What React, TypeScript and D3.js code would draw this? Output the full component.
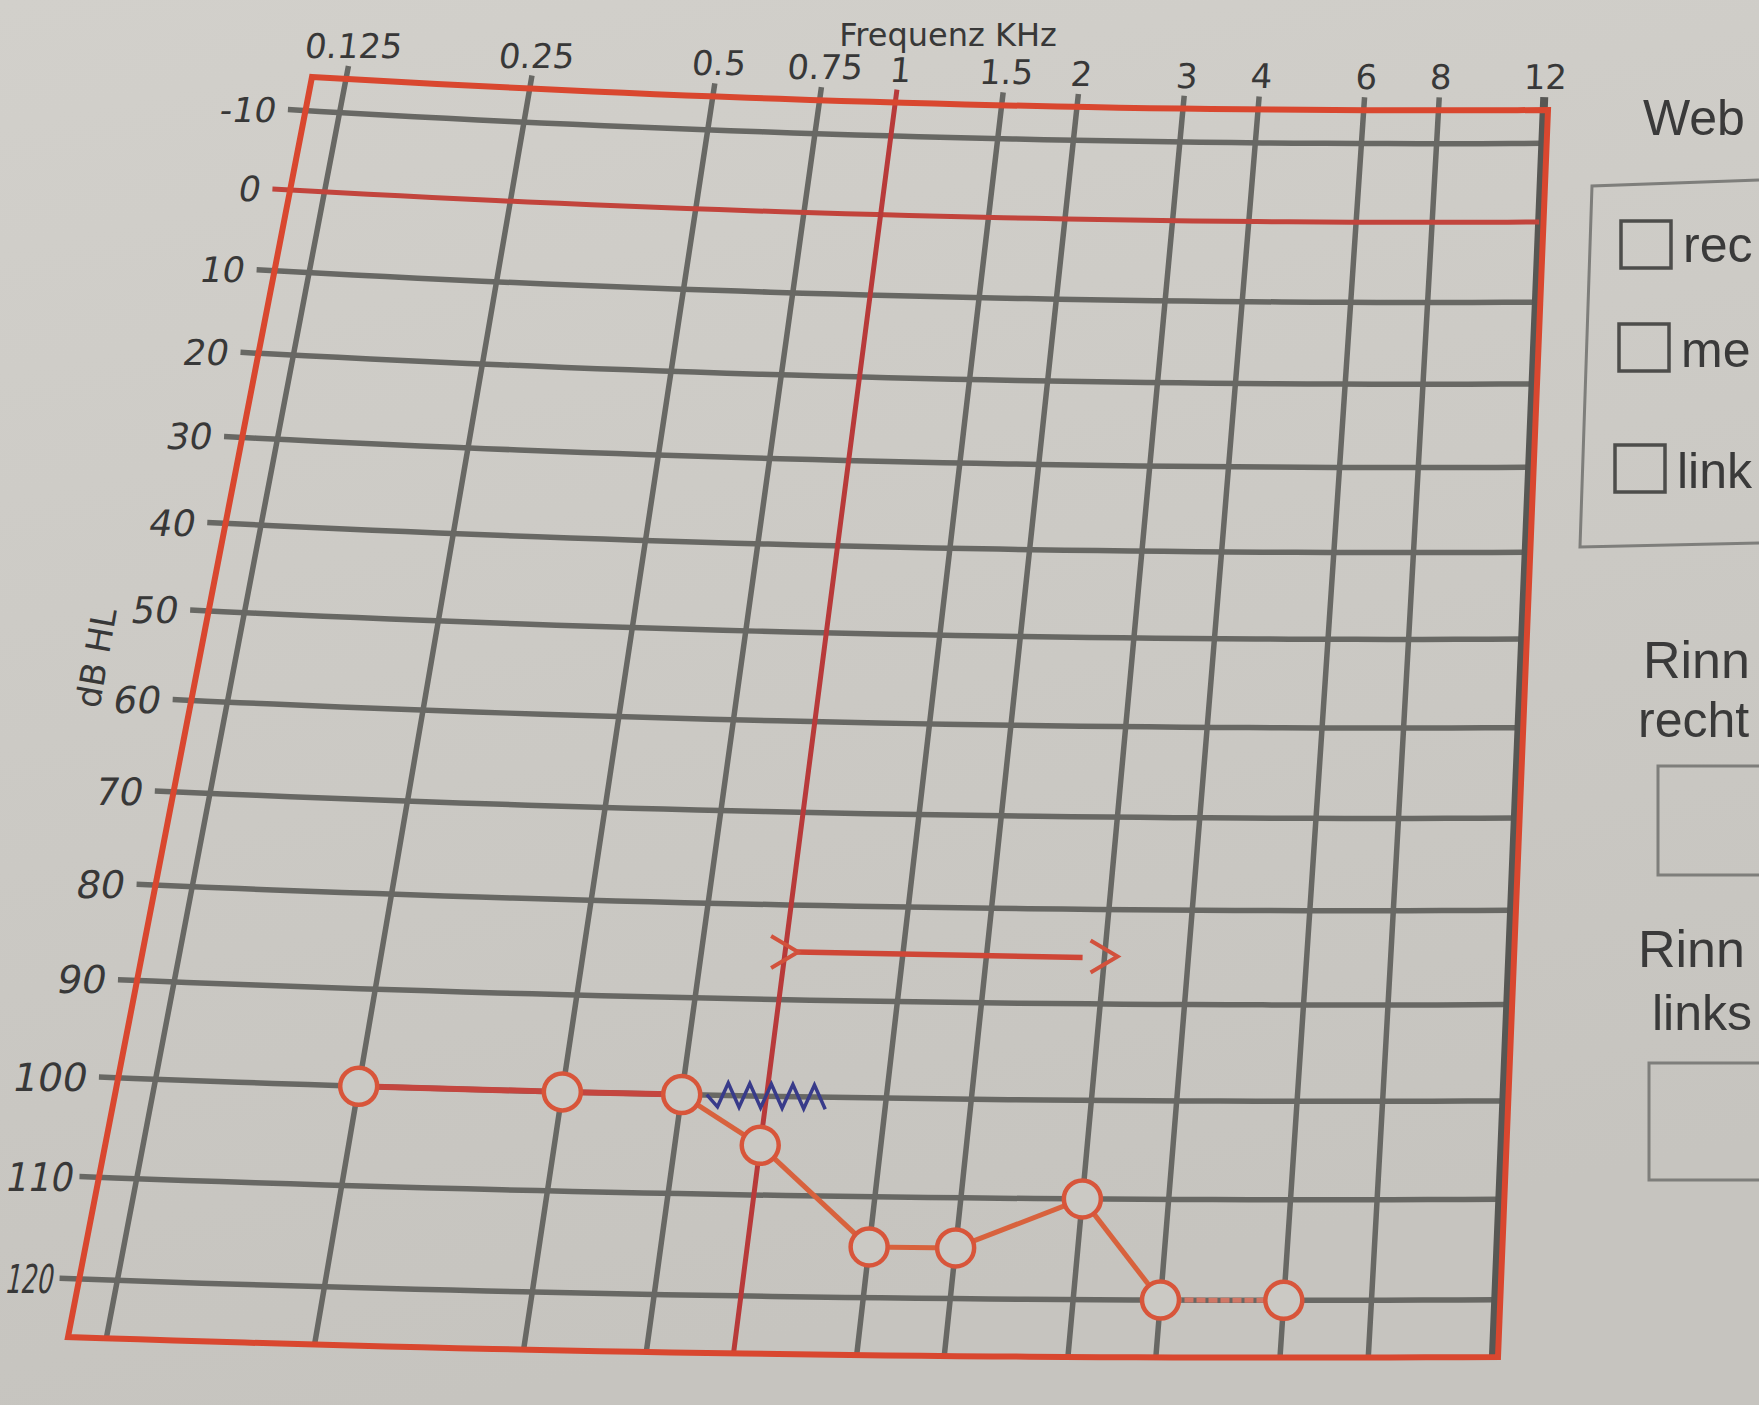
import React, { useEffect, useRef } from 'react';
import * as d3 from 'd3';

// audiogram values
const freqTicks = [0.125, 0.25, 0.5, 0.75, 1, 1.5, 2, 3, 4, 6, 8, 12];
const freqLabels = ['0.125', '0.25', '0.5', '0.75', '1', '1.5', '2', '3', '4', '6', '8', '12'];
const dbTicks = [-10, 0, 10, 20, 30, 40, 50, 60, 70, 80, 90, 100, 110, 120];
const dbLabels = ['-10', '0', '10', '20', '30', '40', '50', '60', '70', '80', '90', '100', '110', '120'];

const airFreq = [0.25, 0.5, 0.75, 1, 1.5, 2, 3, 4, 6];
const airDb = [100, 100, 100, 105, 115, 115, 110, 120, 120];
// 0 = dark red, 1 = orange, 2 = faint dashed
const segmentKind = [0, 0, 1, 1, 1, 1, 1, 2];

const noiseFreq = [0.75, 1.22];
const noiseDb = 100;

const rangeFreq = [1, 3];
const rangeDb = 85;

const weberOptions = ['rec', 'me', 'link'];

const W = 1759;
const H = 1405;

type Pt = [number, number];

// unit square -> photographed quad (tl, tr, br, bl)
function homography(p0: Pt, p1: Pt, p2: Pt, p3: Pt) {
  const [x0, y0] = p0, [x1, y1] = p1, [x2, y2] = p2, [x3, y3] = p3;
  const dx1 = x1 - x2, dx2 = x3 - x2, dx3 = x0 - x1 + x2 - x3;
  const dy1 = y1 - y2, dy2 = y3 - y2, dy3 = y0 - y1 + y2 - y3;
  const den = dx1 * dy2 - dy1 * dx2;
  const g = (dx3 * dy2 - dy3 * dx2) / den;
  const h = (dx1 * dy3 - dy1 * dx3) / den;
  const a = x1 - x0 + g * x1, b = x3 - x0 + h * x3, c = x0;
  const d = y1 - y0 + g * y1, e = y3 - y0 + h * y3, f = y0;
  return (u: number, v: number): Pt => {
    const w = g * u + h * v + 1;
    return [(a * u + b * v + c) / w, (d * u + e * v + f) / w];
  };
}

const App: React.FC = () => {
  const svgRef = useRef<SVGSVGElement>(null);

  useEffect(() => {
    if (!svgRef.current) return;
    const svg = d3.select(svgRef.current);
    svg.selectAll('*').remove();

    const x = d3.scaleLog().domain([0.11, 12.2]).range([0, 1]);
    const y = d3.scaleLinear().domain([-14.3, 125.6]).range([0, 1]);

    const quad = homography([312, 77], [1548, 110], [1498, 1357], [68, 1337]);
    // paper is bent a little in the photo
    const P = (u: number, v: number): Pt => {
      const [px, py] = quad(u, v);
      const bow = 4 * u * (1 - u);
      return [px - 10 * bow * v, py + bow * (10 - 3 * v)];
    };
    const line = d3.line();
    const seg = (u0: number, v0: number, u1: number, v1: number, n = 40) =>
      line(d3.range(n + 1).map(i => P(u0 + (u1 - u0) * i / n, v0 + (v1 - v0) * i / n)));
    const slant = (u: number) => {
      const a = P(u, 0), b = P(u, 1);
      return Math.atan2(b[0] - a[0], b[1] - a[1]) * 180 / Math.PI;
    };

    const defs = svg.append('defs');
    const grad = defs.append('linearGradient').attr('id', 'paper')
      .attr('x1', 0).attr('y1', 0).attr('x2', 0.25).attr('y2', 1);
    grad.append('stop').attr('offset', 0).attr('stop-color', '#d2d0cb');
    grad.append('stop').attr('offset', 1).attr('stop-color', '#c6c4bf');
    svg.append('rect').attr('width', W).attr('height', H).attr('fill', 'url(#paper)');

    const g = svg.append('g').attr('fill', 'none').attr('stroke-linecap', 'butt');
    const gray = '#686864';

    // horizontal grid (with tick stubs on the left)
    dbTicks.filter(d => d !== 0).forEach(d => {
      g.append('path').attr('d', seg(-0.014, y(d), x(12), y(d)))
        .attr('stroke', gray).attr('stroke-width', 5.5);
    });
    // vertical grid
    freqTicks.filter(f => f !== 1).forEach(f => {
      g.append('path').attr('d', seg(x(f), -0.012, x(f), 1))
        .attr('stroke', f === 12 ? '#575754' : gray).attr('stroke-width', f === 12 ? 8 : 5.5);
    });
    // 0 dB and 1 kHz reference lines
    g.append('path').attr('d', seg(-0.014, y(0), x(12), y(0)))
      .attr('stroke', '#c2443c').attr('stroke-width', 5);
    g.append('path').attr('d', seg(x(1), -0.012, x(1), 1))
      .attr('stroke', '#b83a3a').attr('stroke-width', 5);

    // frame
    const n = 40;
    const frame: Pt[] = [
      ...d3.range(n + 1).map(i => P(i / n, 0)),
      ...d3.range(n + 1).map(i => P(1, i / n)),
      ...d3.range(n + 1).map(i => P(1 - i / n, 1)),
      ...d3.range(n + 1).map(i => P(0, 1 - i / n)),
    ];
    g.append('path').attr('d', line(frame) + 'Z')
      .attr('stroke', '#d9472f').attr('stroke-width', 6).attr('stroke-linejoin', 'miter');

    // x tick labels
    const txt = svg.append('g').attr('font-family', 'DejaVu Sans, Verdana, sans-serif').attr('fill', '#383838');
    freqTicks.forEach((f, i) => {
      const u = x(f);
      const top = P(u, 0);
      const ext = P(u, -0.03);
      txt.append('text')
        .attr('transform', `translate(${ext[0]},${top[1] - 21}) skewX(${slant(u) * 0.7})`)
        .attr('text-anchor', 'middle').attr('font-size', 34)
        .text(freqLabels[i]);
    });
    txt.append('text').attr('x', 948).attr('y', 46).attr('text-anchor', 'middle')
      .attr('font-size', 32).text('Frequenz KHz');

    // y tick labels (squeezed where they would run off the left edge)
    const lean = slant(0);
    dbTicks.forEach((d, i) => {
      const v = y(d);
      const p = P(-0.014, v);
      const label = dbLabels[i];
      const fs = 34 + 6 * v;
      let right = p[0] - 14;
      const width = 0.636 * fs * label.length;
      const t = txt.append('text')
        .attr('text-anchor', 'end').attr('font-size', fs)
        .text(label);
      if (width + 4 > right) {
        right = p[0] - 8;
        if (width + 4 > right) {
          t.attr('textLength', right - 4).attr('lengthAdjust', 'spacingAndGlyphs');
        }
      }
      t.attr('transform', `translate(${right},${p[1] + fs * 0.36}) skewX(${lean})`);
    });
    txt.append('text').attr('transform', 'translate(108,660) rotate(-80)')
      .attr('text-anchor', 'middle').attr('font-size', 34).text('dB HL');

    // frequency range arrow
    const marks = svg.append('g').attr('fill', 'none');
    const a0 = P(x(rangeFreq[0]), y(rangeDb));
    const a1 = P(x(rangeFreq[1]), y(rangeDb));
    marks.append('path').attr('d', line([[a0[0] + 12, a0[1]], [a1[0] - 22, a1[1] + 1]]))
      .attr('stroke', '#cf4636').attr('stroke-width', 5.5);
    [a0, a1].forEach(c => {
      marks.append('path')
        .attr('d', line([[c[0] - 14, c[1] - 16], [c[0] + 13, c[1]], [c[0] - 14, c[1] + 16]]))
        .attr('stroke', '#d2513c').attr('stroke-width', 4);
    });

    // threshold line
    const pts = airFreq.map((f, i) => P(x(f), y(airDb[i])));
    const kindStyle = [
      { stroke: '#c4463f', width: 6, dash: null },
      { stroke: '#d8623d', width: 5, dash: null },
      { stroke: '#d07766', width: 5, dash: '9 3' },
    ];
    segmentKind.forEach((k, i) => {
      const s = kindStyle[k];
      marks.append('path').attr('d', line([pts[i], pts[i + 1]]))
        .attr('stroke', s.stroke).attr('stroke-width', s.width)
        .attr('stroke-dasharray', s.dash);
    });

    // masking noise zigzag
    const z0 = P(x(noiseFreq[0]), y(noiseDb));
    const z1 = P(x(noiseFreq[1]), y(noiseDb));
    const zx0 = z0[0] + 25;
    const steps = 11;
    const zig: Pt[] = d3.range(steps + 1).map(i => {
      const t = i / steps;
      const cy = z0[1] + (z1[1] - z0[1]) * t;
      const off = i === 0 ? 0 : (i % 2 === 1 ? 12 : -12);
      return [zx0 + (z1[0] - zx0) * t, cy + off];
    });
    marks.append('path').attr('d', line(zig))
      .attr('stroke', '#383b8a').attr('stroke-width', 3.5).attr('stroke-linejoin', 'miter');

    // circles
    marks.selectAll('circle.air').data(pts).enter().append('circle')
      .attr('class', 'air')
      .attr('cx', d => d[0]).attr('cy', d => d[1]).attr('r', 18.5)
      .attr('fill', '#cbc9c4').attr('stroke', '#d8553a').attr('stroke-width', 4.5);

    // right-hand panel (cut off by the photo edge)
    const side = svg.append('g').attr('font-family', 'Liberation Sans, Arial, sans-serif').attr('fill', '#3a3a3a');
    side.append('text').attr('x', 1643).attr('y', 135).attr('font-size', 50).text('Web');
    side.append('path').attr('d', 'M1759,180 L1592,186 L1580,547 L1759,543')
      .attr('fill', 'none').attr('stroke', '#7e7e7b').attr('stroke-width', 3);
    const boxes = [[1621, 221, 262], [1619, 324, 367], [1615, 445, 488]];
    weberOptions.forEach((label, i) => {
      const [bx, by, base] = boxes[i];
      side.append('rect').attr('x', bx).attr('y', by).attr('width', 50).attr('height', 47)
        .attr('fill', 'none').attr('stroke', '#4d4d4b').attr('stroke-width', 3.5);
      side.append('text').attr('x', bx + 62).attr('y', base).attr('font-size', 50).text(label);
    });
    side.append('text').attr('x', 1643).attr('y', 678).attr('font-size', 52).text('Rinn');
    side.append('text').attr('x', 1638).attr('y', 737).attr('font-size', 50).text('recht');
    side.append('path').attr('d', 'M1759,766 L1658,766 L1658,875 L1759,875')
      .attr('fill', 'none').attr('stroke', '#7e7e7b').attr('stroke-width', 3);
    side.append('text').attr('x', 1638).attr('y', 967).attr('font-size', 52).text('Rinn');
    side.append('text').attr('x', 1652).attr('y', 1030).attr('font-size', 50).text('links');
    side.append('path').attr('d', 'M1759,1063 L1649,1063 L1649,1180 L1759,1180')
      .attr('fill', 'none').attr('stroke', '#7e7e7b').attr('stroke-width', 3);
  }, []);

  return (
    <svg ref={svgRef} width={W} height={H}
      style={{ position: 'absolute', left: 0, top: 0, display: 'block' }} />
  );
};

export default App;
